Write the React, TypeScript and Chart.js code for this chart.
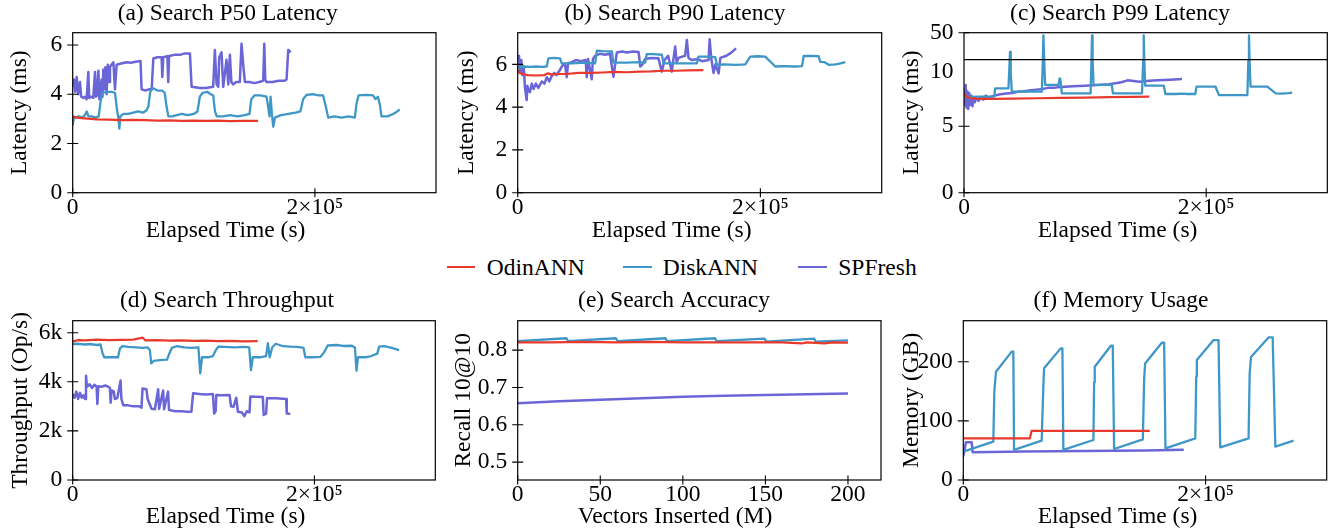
import React, { useEffect, useRef } from "react";
import { Chart, registerables, LinearScale } from "chart.js";

Chart.register(...registerables);

// ---------- broken y scale (linear 0..breakAt in lower part, breakAt..max in upper part)
class BrokenLinearScale extends LinearScale {
  static id = "brokenLinear";
  static defaults = {};
  _toDec(v: number) {
    const s: any = this;
    const b = s.options.breakAt;
    const f = s.options.lowerFraction;
    if (v <= b) return ((v - s.min) / (b - s.min)) * f;
    return f + ((v - b) / (s.max - b)) * (1 - f);
  }
  getPixelForValue(v: number) {
    const s: any = this;
    if (v === null || v === undefined) return NaN;
    return s.getPixelForDecimal(this._toDec(v));
  }
  getValueForPixel(p: number) {
    const s: any = this;
    const d = s.getDecimalForPixel(p);
    const b = s.options.breakAt;
    const f = s.options.lowerFraction;
    if (d <= f) return s.min + (d / f) * (b - s.min);
    return b + ((d - f) / (1 - f)) * (s.max - b);
  }
}
Chart.register(BrokenLinearScale as any);

const FONT = "'Liberation Serif', 'Times New Roman', Times, serif";
const FS = 23.5;

// ---------- series names / colours
const SERIES = ["OdinANN", "DiskANN", "SPFresh"];
const COLORS = ["#e8392d", "#3f97c7", "#6b66d8"];
const WIDTHS = [2.2, 2.3, 2.5];

// ---------- data: [time (10^3 s), value]
const P50_ODIN = [[0,3.1],[2,3.07],[5,3.04],[10,3.02],[15,3.0],[20,2.98],[30,2.97],[40,2.95],[50,2.96],[60,2.95],[70,2.93],[80,2.94],[90,2.92],[100,2.93],[110,2.92],[120,2.93],[130,2.91],[140,2.92],[153,2.92]];
const P50_DISK = [[0,2.75],[0.8,3.0],[2,3.05],[5,3.1],[8,3.05],[10,3.15],[11.6,3.3],[13,3.1],[16,3.1],[19,3.05],[21.5,3.1],[23,3.7],[24.5,4.05],[28,4.1],[32,4.1],[35,4.05],[36.5,3.4],[37.7,3.05],[38.5,2.6],[39.3,3.1],[42,3.2],[46,3.2],[50,3.25],[54,3.3],[58,3.25],[61,3.35],[62.5,3.5],[64,4.1],[66,4.25],[70,4.15],[74,4.15],[76,4.05],[77.5,3.5],[79,3.1],[82,3.1],[86,3.15],[90,3.2],[95,3.15],[100,3.2],[103,3.3],[105,3.9],[107,4.05],[111,4.1],[114,4.0],[116,3.95],[117.5,3.3],[119,3.1],[124,3.1],[130,3.15],[136,3.1],[142,3.15],[146,3.2],[147.5,3.8],[150,3.95],[155,3.95],[160,3.9],[161.4,3.5],[162.5,3.1],[163.4,3.9],[164.5,3.2],[165.6,2.68],[167,3.05],[172,3.15],[178,3.2],[184,3.25],[188,3.3],[190.3,3.8],[193,3.97],[198,4.0],[203,3.95],[206.8,3.95],[209,3.5],[211,3.05],[216,3.1],[222,3.05],[228,3.1],[233,3.05],[234.3,3.6],[236,3.95],[242,3.97],[248,3.95],[250,3.8],[252,3.9],[253.6,3.6],[255,3.1],[260,3.1],[264.6,3.2],[268,3.3],[270,3.38]];
const P50_SPF = [[0,4.3],[1,4.6],[2,4.1],[3.3,4.7],[4.5,4.0],[6,4.5],[7,3.9],[8.8,3.85],[10,3.9],[11.5,3.8],[12.9,4.9],[13.6,3.85],[15,3.9],[17,3.85],[18.4,4.9],[19.2,3.9],[20,3.95],[21.2,4.95],[22,3.8],[23.9,4.6],[24.6,3.9],[25.3,5.0],[26.2,4.2],[27,5.1],[28,4.0],[29,5.2],[30,4.5],[30.8,5.1],[32,5.2],[33.6,5.3],[34.9,4.2],[36.3,5.2],[40,5.25],[44.6,5.3],[48,5.28],[52,5.32],[56,5.35],[56.9,4.2],[60,4.15],[63,4.2],[65.2,4.2],[66.6,5.45],[70,5.5],[73.4,5.5],[74,4.7],[74.8,5.5],[78.2,5.55],[78.9,4.5],[79.6,5.55],[84,5.6],[88.6,5.6],[92,5.65],[96.8,5.65],[98.2,4.3],[105,4.25],[110,4.25],[116,4.3],[117.4,5.8],[118.8,4.4],[120.2,4.3],[121,5.5],[122.9,5.7],[124.3,4.3],[127,5.4],[128.5,4.4],[129.8,5.6],[131,4.5],[132.6,4.4],[135,4.5],[138,4.5],[139.4,6.05],[140.8,5.2],[142.2,4.5],[146,4.5],[150,4.45],[154,4.5],[157.3,4.55],[158.2,6.05],[159,4.6],[160,4.5],[165,4.5],[170,4.55],[175,4.55],[176.6,4.6],[178,5.8],[180,5.7]];

const P90_ODIN = [[0,5.75],[1.5,5.6],[4,5.55],[8,5.5],[15,5.48],[22,5.5],[25,5.58],[28,5.52],[32,5.55],[40,5.55],[50,5.6],[60,5.6],[70,5.62],[80,5.65],[90,5.63],[100,5.66],[110,5.67],[120,5.7],[130,5.7],[140,5.72],[153,5.73]];
const P90_DISK = [[0,5.85],[5,5.9],[10,5.88],[15,5.9],[20,5.88],[23.9,5.9],[25.3,6.28],[30,6.3],[34.9,6.28],[36.3,6.05],[45,6.05],[55,6.08],[63.8,6.05],[65.2,6.64],[70,6.62],[77.6,6.6],[78.9,6.08],[90,6.08],[100,6.1],[105,6.08],[106.4,6.48],[112,6.48],[118.8,6.45],[120.2,6.05],[130,6.05],[140,6.05],[147.7,6.05],[149,6.36],[155,6.36],[162.8,6.34],[164.2,5.97],[170,6.0],[180,5.98],[187.6,6.0],[191.7,6.36],[198,6.38],[204,6.36],[212.3,5.9],[220,5.92],[228,5.9],[234.3,5.92],[235.7,6.39],[242,6.4],[248,6.38],[249.4,6.12],[253,6.1],[256.3,5.98],[262,6.0],[266,6.05],[270,6.1]];
const P90_SPF = [[0,6.3],[1.1,6.4],[2,5.6],[3,6.2],[3.9,5.5],[5,5.9],[6,4.9],[7.4,4.33],[8,5.0],[8.8,4.8],[10,4.7],[11.6,5.1],[13,4.85],[15,5.1],[17,4.9],[19.8,5.2],[22,5.1],[24,5.4],[26,5.2],[28,5.45],[30,5.6],[32,5.5],[34.9,5.75],[37,5.95],[39,6.0],[40.4,5.4],[41.5,6.05],[44.6,6.1],[48,6.2],[52,6.15],[56,6.2],[56.9,5.4],[58,6.25],[61,5.3],[62,6.25],[63.8,6.4],[68,6.5],[72,6.45],[76,6.5],[78.9,5.42],[81.7,6.55],[86,6.6],[90,6.55],[95,6.6],[99.6,6.58],[101,5.9],[103,6.0],[105,6.25],[110,6.3],[116,6.28],[118.8,5.66],[121,6.2],[124,6.4],[127,5.66],[128.5,6.3],[129.8,6.83],[131,6.1],[132.6,6.3],[135,6.35],[138,6.4],[139.4,7.14],[140.8,6.3],[143.6,6.2],[148,6.25],[152,6.15],[157.3,6.2],[158.2,7.17],[159.5,6.3],[161.4,5.6],[163,6.0],[165.6,5.58],[167,6.3],[172,6.4],[176,6.55],[180,6.75]];

const P99_ODIN = [[0,7.5],[1,7.35],[2.5,7.2],[5,7.12],[10,7.07],[15,7.05],[25,7.05],[40,7.08],[60,7.1],[80,7.13],[100,7.15],[120,7.18],[140,7.2],[153,7.22]];
const P99_DISK = [[0,7.22],[5,7.2],[15,7.22],[25,7.22],[25.7,7.84],[30,7.84],[36.7,7.84],[37.5,9.5],[38,21.5],[38.6,9.0],[39.5,7.6],[45,7.6],[55,7.62],[64.3,7.6],[65.1,10],[65.6,46],[66.2,10],[67,8.1],[72,8.1],[78,8.1],[79,8.6],[79.6,8.5],[80.8,7.47],[90,7.47],[100,7.47],[104.5,7.47],[105.3,10],[105.7,46],[106.2,10],[107,8.1],[115,8.1],[122,8.1],[123,7.47],[135,7.47],[147,7.47],[148,10],[148.4,46],[148.9,10],[149.6,8.05],[157,8.05],[165,8.05],[166.3,7.42],[175,7.42],[180,7.45],[185,7.42],[191,7.42],[192,7.97],[200,7.97],[207.7,7.97],[210.5,7.34],[220,7.34],[230,7.34],[234,7.34],[234.8,10],[235.3,46],[235.8,10],[236.6,7.97],[245,7.97],[250.5,7.97],[257.4,7.47],[262,7.45],[268,7.48],[271,7.52]];
const P99_SPF = [[0,7.8],[0.7,6.6],[1.4,8.1],[2.1,6.4],[2.8,7.6],[3.5,6.3],[4.2,7.5],[5,6.6],[6,7.3],[7,6.5],[8,7.2],[9,6.8],[10,7.2],[12,6.9],[14,7.2],[16,7.0],[18,7.3],[20,7.15],[25,7.3],[30,7.4],[35,7.45],[40,7.5],[45,7.6],[50,7.62],[55,7.7],[60,7.75],[65,7.8],[70,7.9],[75,7.9],[80,7.95],[90,8.0],[100,8.05],[110,8.1],[120,8.15],[130,8.3],[135,8.45],[140,8.4],[145,8.35],[150,8.4],[160,8.45],[170,8.5],[180,8.55]];

const TPUT_ODIN = [[0,5650],[5,5700],[10,5690],[20,5720],[30,5700],[40,5710],[50,5720],[58,5800],[60,5690],[70,5700],[80,5680],[90,5690],[100,5670],[110,5680],[120,5660],[130,5670],[140,5650],[153,5660]];
const TPUT_DISK = [[0,5540],[5,5550],[10,5520],[15,5540],[20,5500],[23,5520],[24.5,5200],[26,5000],[30,5000],[35,5000],[37.5,5000],[39,5350],[41,5450],[46,5420],[52,5400],[58,5380],[62,5400],[63.8,5300],[65,4750],[67,4850],[72,4880],[78,4900],[79.5,5100],[82,5380],[86,5450],[92,5400],[98,5380],[104,5400],[105.5,4340],[107,5000],[112,5000],[116,5050],[118.5,5300],[120.5,5430],[126,5420],[134,5400],[142,5420],[146,5400],[147.5,4480],[149,5000],[155,5000],[160,5050],[161.5,5570],[163,5000],[165,5400],[168,5550],[174,5450],[180,5430],[186,5420],[191,5380],[192.5,5000],[198,5000],[205,5020],[208,5200],[211,5480],[218,5500],[224,5460],[231,5470],[233.5,5400],[234.8,4450],[236,5000],[242,5000],[247,5050],[252,5150],[253.5,5430],[258,5450],[264,5380],[270,5290]];
const TPUT_SPF = [[0,3500],[1.5,3350],[3,3600],[4.5,3300],[6,3550],[7.5,3350],[9,3450],[10.2,3300],[11,4250],[11.8,3800],[14,3900],[16,3750],[18,3880],[19.8,3800],[20.4,3100],[21.2,3820],[24,3800],[27,3850],[30,3780],[30.8,3750],[31.4,3150],[32.2,3650],[34,3600],[34.9,3300],[37,3350],[39.6,4050],[40.3,3300],[41.8,3050],[45,3050],[50,3000],[55,3000],[56.9,2950],[57.8,3730],[61,3700],[62,3300],[65.2,2900],[68,2880],[70.7,3700],[71.5,2900],[74.8,3650],[75.6,2880],[78.9,3600],[79.7,2850],[85,2800],[90,2800],[95,2780],[98.2,2780],[99.6,3530],[105,3500],[110,3480],[116,3500],[117,2710],[118.3,2800],[118.8,3460],[124,3450],[129.8,3460],[131,3000],[133,2980],[135.3,3350],[136.7,2780],[140,2750],[142,2600],[144,2800],[146.3,2760],[147,3400],[152,3390],[157.3,3380],[158,2650],[160,2700],[160.8,3330],[168,3330],[176.6,3300],[177.1,2710],[180,2700]];

// [vectors inserted (M), recall]
const REC_ODIN = [[0,0.821],[20,0.821],[40,0.822],[60,0.821],[80,0.822],[100,0.821],[120,0.821],[140,0.821],[160,0.821],[172,0.818],[175,0.821],[186,0.818],[190,0.821],[200,0.820]];
const REC_DISK = [[0,0.824],[29.5,0.832],[30.5,0.824],[59.5,0.832],[60.5,0.824],[89.5,0.832],[90.5,0.824],[119.5,0.832],[120.5,0.824],[149.5,0.831],[150.5,0.823],[179.5,0.831],[180.5,0.823],[200,0.826]];
const REC_SPF = [[0,0.658],[25,0.663],[50,0.667],[75,0.671],[100,0.675],[125,0.678],[150,0.680],[175,0.682],[200,0.684]];

const MEM_ODIN = [[0,70.5],[55,70.5],[56.3,83],[154,83]];
const MEM_DISK = [[0,48],[24.8,65],[25.6,150],[27,183],[39.9,217],[41.3,217],[41.9,51],[64.7,66.5],[66.1,160],[66.7,189],[80.4,222.5],[81.8,222.5],[82.6,51],[107.4,67.6],[108,165],[108.5,191.5],[121.8,227],[123.4,227],[124.5,52.4],[148.2,68.7],[149.3,170],[150.1,197],[163.9,232],[165.8,232],[166.9,53.5],[191.5,70.4],[192.3,175],[192.8,203],[206.6,236.6],[210.7,236.6],[212.1,55.2],[235.5,70.4],[236.4,180],[237.5,208],[252,241],[255.4,241],[257.6,56.3],[272.7,66.5]];
const MEM_SPF = [[0,40],[2.2,64],[6.9,64],[7.7,47],[50,48],[100,49],[150,50],[182,51]];

// ---------- ticks
const TIME_TICKS = [0, 200000];
const TIME_TICK_LABELS = ["0", "2×10⁵"];
const VEC_TICKS = [0, 50, 100, 150, 200];
const VEC_TICK_LABELS = ["0", "50", "100", "150", "200"];
const LAT_TICKS = [0, 2, 4, 6];
const LAT_TICK_LABELS = ["0", "2", "4", "6"];
const P99_TICKS = [0, 5, 10, 50];
const P99_TICK_LABELS: any[] = ["0", "5", ["", "10"], "50"];
const TPUT_TICKS = [0, 2000, 4000, 6000];
const TPUT_TICK_LABELS = ["0", "2k", "4k", "6k"];
const REC_TICKS = [0.5, 0.6, 0.7, 0.8];
const REC_TICK_LABELS = ["0.5", "0.6", "0.7", "0.8"];
const MEM_TICKS = [0, 100, 200];
const MEM_TICK_LABELS = ["0", "100", "200"];

const TITLES = ["(a) Search P50 Latency", "(b) Search P90 Latency", "(c) Search P99 Latency", "(d) Search Throughput", "(e) Search Accuracy", "(f) Memory Usage"];
const XLABEL_TIME = "Elapsed Time (s)";
const XLABEL_VEC = "Vectors Inserted (M)";
const YLABELS = ["Latency (ms)", "Latency (ms)", "Latency (ms)", "Throughput (Op/s)", "Recall 10@10", "Memory (GB)"];

// ---------- decorations: frame, in-out ticks, break line, title, x label
const decorPlugin = {
  id: "decor",
  afterDraw(chart: any, _args: any, o: any) {
    const { ctx, chartArea: a } = chart;
    const xs = chart.scales.x;
    const ys = chart.scales.y;
    ctx.save();
    ctx.strokeStyle = "#000";
    ctx.lineWidth = 1.2;
    ctx.strokeRect(a.left, a.top, a.right - a.left, a.bottom - a.top);
    if (o.breakAt != null) {
      const py = ys.getPixelForValue(o.breakAt);
      ctx.beginPath();
      ctx.moveTo(a.left, py);
      ctx.lineTo(a.right, py);
      ctx.stroke();
    }
    ctx.lineWidth = 1.1;
    ctx.beginPath();
    for (const t of ys.ticks) {
      if (o.breakAt != null && t.value === o.breakAt) continue;
      const py = ys.getPixelForValue(t.value);
      ctx.moveTo(a.left - 5.5, py);
      ctx.lineTo(a.left + 5.5, py);
    }
    for (const t of xs.ticks) {
      const px = xs.getPixelForValue(t.value);
      ctx.moveTo(px, a.bottom - 4.5);
      ctx.lineTo(px, a.bottom + 4.5);
    }
    ctx.stroke();
    ctx.fillStyle = "#000";
    ctx.font = `${FS}px ${FONT}`;
    ctx.textAlign = "center";
    ctx.textBaseline = "middle";
    ctx.fillText(o.title, o.titleX, o.titleY);
    ctx.fillText(o.xlabel, o.xlabelX, a.bottom + o.xlabelDy);
    ctx.restore();
  },
};

type PanelSpec = {
  id: string; left: number; top: number; w: number; h: number;
  areaL: number; areaR: number; areaT: number; areaB: number;
  titleX: number; titleY: number; xlabelX: number; xlabelDy: number; ylabelPad: number;
  title: string; xlabel: string; ylabel: string;
  xMin: number; xMax: number; xMul: number; xTicks: number[]; xLabels: any[];
  yMin: number; yMax: number; yTicks: number[]; yLabels: any[]; yType?: string; yExtra?: any;
  breakAt?: number; series: number[][][];
};

const ROW1 = { top: 0, h: 250, areaT: 32.7, areaB: 192.7, titleY: 13.4, xlabelDy: 38.4 };
const ROW2 = { top: 287, h: 244, areaT: 320.7, areaB: 480, titleY: 301.1, xlabelDy: 36.8 };
const TIME_X = { xMin: 0, xMax: 300000, xMul: 1000, xTicks: TIME_TICKS, xLabels: TIME_TICK_LABELS, xlabel: XLABEL_TIME };

const PANELS: PanelSpec[] = [
  { id: "a", ...ROW1, ...TIME_X, left: 0, w: 440, areaL: 72.7, areaR: 436, titleX: 227.7, xlabelX: 225.5, ylabelPad: 6,
    title: TITLES[0], ylabel: YLABELS[0], yMin: 0, yMax: 6.5, yTicks: LAT_TICKS, yLabels: LAT_TICK_LABELS,
    series: [P50_ODIN, P50_DISK, P50_SPF] },
  { id: "b", ...ROW1, ...TIME_X, left: 445, w: 441, areaL: 517.7, areaR: 881.7, titleX: 675, xlabelX: 671.7, ylabelPad: 7.5,
    title: TITLES[1], ylabel: YLABELS[1], yMin: 0, yMax: 7.48, yTicks: LAT_TICKS, yLabels: LAT_TICK_LABELS,
    series: [P90_ODIN, P90_DISK, P90_SPF] },
  { id: "c", ...ROW1, ...TIME_X, left: 892, w: 438, areaL: 964, areaR: 1327.3, titleX: 1120, xlabelX: 1117.5, ylabelPad: 6,
    title: TITLES[2], ylabel: YLABELS[2], yMin: 0, yMax: 50, yTicks: P99_TICKS, yLabels: P99_TICK_LABELS,
    yType: "brokenLinear", yExtra: { breakAt: 10, lowerFraction: 0.83125 }, breakAt: 10,
    series: [P99_ODIN, P99_DISK, P99_SPF] },
  { id: "d", ...ROW2, ...TIME_X, left: 0, w: 440, areaL: 72.7, areaR: 435.3, titleX: 227, xlabelX: 225.5, ylabelPad: 6.5,
    title: TITLES[3], ylabel: YLABELS[3], yMin: 0, yMax: 6490, yTicks: TPUT_TICKS, yLabels: TPUT_TICK_LABELS,
    series: [TPUT_ODIN, TPUT_DISK, TPUT_SPF] },
  { id: "e", ...ROW2, left: 445, w: 440, areaL: 517.7, areaR: 881, titleX: 674, xlabelX: 675, ylabelPad: 5,
    title: TITLES[4], ylabel: YLABELS[4], xlabel: XLABEL_VEC, xMin: 0, xMax: 220, xMul: 1, xTicks: VEC_TICKS, xLabels: VEC_TICK_LABELS,
    yMin: 0.452, yMax: 0.879, yTicks: REC_TICKS, yLabels: REC_TICK_LABELS,
    series: [REC_ODIN, REC_DISK, REC_SPF] },
  { id: "f", ...ROW2, ...TIME_X, left: 891, w: 439, areaL: 963.3, areaR: 1326.7, titleX: 1121, xlabelX: 1117.5, ylabelPad: 6.5,
    title: TITLES[5], ylabel: YLABELS[5], yMin: 0, yMax: 269.3, yTicks: MEM_TICKS, yLabels: MEM_TICK_LABELS,
    series: [MEM_ODIN, MEM_DISK, MEM_SPF] },
];

function buildConfig(p: PanelSpec): any {
  const tickFont = { family: FONT, size: FS, lineHeight: 1 };
  return {
    type: "line",
    data: {
      datasets: p.series.map((pts, i) => ({
        label: SERIES[i],
        data: pts.map(([x, y]) => ({ x: x * p.xMul, y })),
        borderColor: COLORS[i],
        backgroundColor: COLORS[i],
        borderWidth: WIDTHS[i],
        pointRadius: 0,
        tension: 0,
        fill: false,
        borderJoinStyle: "round",
      })),
    },
    options: {
      animation: false,
      responsive: false,
      devicePixelRatio: 1,
      events: [],
      layout: { padding: { top: p.areaT - p.top, right: p.left + p.w - p.areaR, bottom: 0, left: 0 } },
      plugins: {
        legend: { display: false },
        tooltip: { enabled: false },
        title: { display: false },
        decor: {
          title: p.title, titleX: p.titleX - p.left, titleY: p.titleY - p.top,
          xlabel: p.xlabel, xlabelX: p.xlabelX - p.left, xlabelDy: p.xlabelDy,
          breakAt: p.breakAt,
        },
      },
      scales: {
        x: {
          type: "linear", min: p.xMin, max: p.xMax,
          grid: { display: false, drawTicks: false },
          border: { display: false },
          ticks: {
            autoSkip: false, maxRotation: 0, minRotation: 0, padding: 3, color: "#000", font: tickFont,
            callback: (_v: any, i: number) => p.xLabels[i],
          },
          afterBuildTicks: (s: any) => { s.ticks = p.xTicks.map((v) => ({ value: v })); },
          afterFit: (s: any) => { s.height = p.top + p.h - p.areaB; },
        },
        y: {
          type: p.yType || "linear", min: p.yMin, max: p.yMax,
          ...(p.yExtra || {}),
          grid: { display: false, drawTicks: false },
          border: { display: false },
          ticks: {
            autoSkip: false, padding: 10.5, color: "#000", font: tickFont,
            callback: (_v: any, i: number) => p.yLabels[i],
          },
          title: {
            display: true, text: p.ylabel, color: "#000",
            font: { family: FONT, size: FS, lineHeight: 1.2 },
            padding: { top: p.ylabelPad, bottom: 0 },
          },
          afterBuildTicks: (s: any) => { s.ticks = p.yTicks.map((v) => ({ value: v })); },
          afterFit: (s: any) => { s.width = p.areaL - p.left; },
        },
      },
    },
    plugins: [decorPlugin],
  };
}

function Panel({ p }: { p: PanelSpec }) {
  const ref = useRef<HTMLCanvasElement | null>(null);
  useEffect(() => {
    const chart = new Chart(ref.current as HTMLCanvasElement, buildConfig(p));
    return () => chart.destroy();
  }, [p]);
  return (
    <canvas
      ref={ref}
      width={p.w}
      height={p.h}
      style={{ position: "absolute", left: p.left, top: p.top, width: p.w, height: p.h }}
    />
  );
}

const LEGEND_POS = [
  { line: 446.7, text: 486.7 },
  { line: 623.3, text: 662.7 },
  { line: 798.3, text: 838.3 },
];

function Legend() {
  const cy = 266.7;
  return (
    <>
      {SERIES.map((name, i) => (
        <React.Fragment key={name}>
          <div style={{ position: "absolute", left: LEGEND_POS[i].line, top: cy - 1, width: 28.3, height: 2, background: COLORS[i] }} />
          <div style={{ position: "absolute", left: LEGEND_POS[i].text, top: cy - 14.1, height: 28, lineHeight: "28px", fontFamily: FONT, fontSize: FS, color: "#000", whiteSpace: "nowrap" }}>
            {name}
          </div>
        </React.Fragment>
      ))}
    </>
  );
}

export default function App() {
  return (
    <div style={{ position: "absolute", left: 0, top: 0, width: 1330, height: 531, overflow: "hidden", background: "#fff" }}>
      {PANELS.map((p) => (
        <Panel key={p.id} p={p} />
      ))}
      <Legend />
    </div>
  );
}
